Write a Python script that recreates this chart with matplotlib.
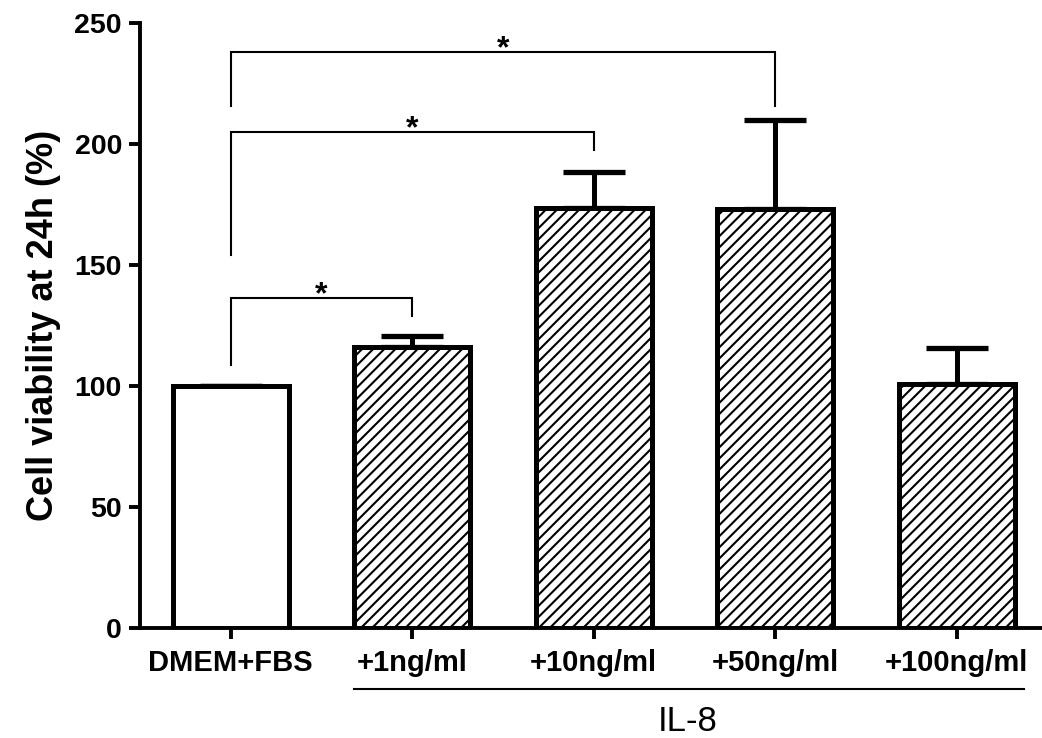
import matplotlib
matplotlib.use("Agg")
import matplotlib.pyplot as plt
import matplotlib.transforms as mtransforms
import numpy as np

plt.rcParams['font.family'] = ['Liberation Sans', 'DejaVu Sans']
plt.rcParams['hatch.linewidth'] = 1.5

# data
groups = ['DMEM+FBS', '+1ng/ml', '+10ng/ml', '+50ng/ml', '+100ng/ml']
means = [100, 116, 173.5, 173, 101]
errs = [0, 4.7, 15, 37, 14.7]
hatches = ['', '///', '///', '///', '///']

# significance brackets: (x1, x2, top, left leg end, right leg end)
brackets = [(0, 1, 136.4, 108.7, 128.9),
            (0, 2, 205.0, 154.1, 197.5),
            (0, 3, 238.0, 215.7, 215.7)]

W, H = 1042, 738
fig = plt.figure(figsize=(W / 100, H / 100), dpi=100)
ax = fig.add_axes([140 / W, 110 / H, (W - 140) / W, 605 / H])

x = np.arange(len(groups))
ax.errorbar(x, means, yerr=[np.zeros(len(errs)), errs], fmt='none',
            ecolor='black', elinewidth=3.6, capsize=22, capthick=3.8, zorder=1)
bars = ax.bar(x, means, width=0.64, color='white', edgecolor='black',
              linewidth=3.6, zorder=2)
for b, h in zip(bars, hatches):
    b.set_hatch(h)

for x1, x2, top, l1, l2 in brackets:
    ax.plot([x1, x1, x2, x2], [l1, top, top, l2], color='black', lw=1.5,
            zorder=3, solid_joinstyle='miter')
    ax.text((x1 + x2) / 2, top - 2.2, '*', ha='center', va='baseline',
            fontsize=23, fontweight='bold', color='black')

ax.set_xlim(-0.5, 4.47)
ax.set_ylim(0, 250)
ax.set_yticks(np.arange(0, 251, 50))
ax.set_xticks(x)
ax.set_xticklabels(groups, fontsize=21, fontweight='bold')
for lab in ax.get_yticklabels():
    lab.set_fontsize(20.5)
    lab.set_fontweight('bold')

ax.spines['top'].set_visible(False)
ax.spines['right'].set_visible(False)
ax.spines['left'].set_linewidth(2.8)
ax.spines['bottom'].set_linewidth(2.8)
ax.tick_params(axis='both', length=8, width=2.8, direction='out')
ax.tick_params(axis='y', pad=5)
ax.tick_params(axis='x', pad=7)

ax.set_ylabel('Cell viability at 24h (%)', fontsize=26, fontweight='bold',
              labelpad=10)

# IL-8 group line and label under the axis
trans = mtransforms.blended_transform_factory(ax.transData, ax.transAxes)
ax.plot([0.68, 4.37], [-0.101, -0.101], color='black', lw=1.5,
        transform=trans, clip_on=False)
ax.text(2.52, -0.155, 'IL-8', fontsize=25, ha='center', va='center',
        transform=trans)

fig.savefig('out.png', dpi=100)
